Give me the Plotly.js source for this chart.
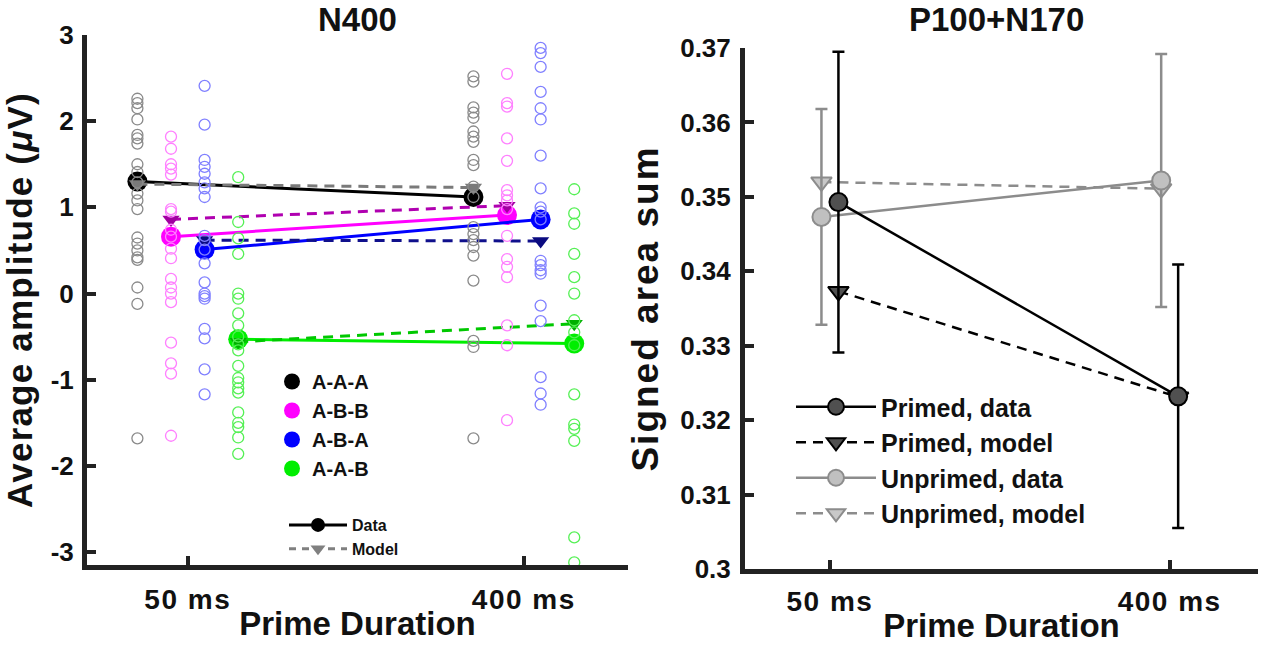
<!DOCTYPE html>
<html>
<head>
<meta charset="utf-8">
<script src="https://cdn.plot.ly/plotly-3.0.1.min.js"></script>
<style>
html,body{margin:0;padding:0;background:#fff}
#chart{width:1267px;height:646px}
#chart .ytitle{letter-spacing:1.2px}
#chart .y2title{letter-spacing:2px}
#chart .xtick text,#chart .x2tick text{letter-spacing:1.5px}
</style>
</head>
<body>
<div id="chart"></div>
<script>
// ---------- DATA ----------
const durations = ['50 ms', '400 ms'];
const groups = ['A-A-A', 'A-B-B', 'A-B-A', 'A-A-B'];

// individual participant values (N400, µV)
const aaa50  = [2.26, 2.21, 2.15, 2.02, 1.84, 1.80, 1.74, 1.50, 1.41, 1.29, 1.16, 1.08, 0.98, 0.65, 0.58, 0.50, 0.42, 0.39, 0.07, -0.12, -1.68];
const aaa400 = [2.52, 2.46, 2.16, 2.10, 2.04, 1.88, 1.82, 1.76, 1.55, 1.49, 1.24, 1.12, 0.77, 0.69, 0.62, 0.54, 0.44, 0.15, -0.55, -0.62, -1.68];
const abb50  = [1.82, 1.68, 1.50, 1.45, 1.38, 0.98, 0.95, 0.74, 0.66, 0.52, 0.41, 0.17, 0.07, 0.00, -0.10, -0.57, -0.81, -0.93, -1.65];
const abb400 = [2.55, 2.21, 2.17, 1.80, 1.54, 1.20, 1.14, 1.08, 0.98, 0.67, 0.40, 0.31, 0.19, -0.37, -0.60, -1.47];
const aba50  = [2.41, 1.96, 1.55, 1.47, 1.39, 1.29, 1.22, 1.12, 0.67, 0.62, 0.51, 0.35, 0.13, 0.00, -0.03, -0.06, -0.41, -0.52, -0.88, -1.17];
const aba400 = [2.85, 2.79, 2.63, 2.34, 2.15, 2.02, 1.60, 1.22, 1.00, 0.95, 0.86, 0.38, 0.33, 0.27, 0.23, -0.14, -0.32, -0.97, -1.16, -1.29];
const aab50  = [1.35, 0.83, 0.64, 0.46, 0.00, -0.06, -0.23, -0.37, -0.50, -0.59, -0.66, -0.84, -0.98, -1.03, -1.10, -1.15, -1.38, -1.50, -1.55, -1.67, -1.86];
const aab400 = [1.21, 0.93, 0.81, 0.46, 0.19, 0.00, -0.31, -0.45, -0.60, -1.17, -1.52, -1.57, -1.71, -2.83, -3.12];

// group means (data) and model predictions, [50 ms, 400 ms]
const aaaData = [1.30, 1.12],  aaaModel = [1.27, 1.23];
const abbData = [0.66, 0.91],  abbModel = [0.86, 1.02];
const abaData = [0.51, 0.86],  abaModel = [0.62, 0.61];
const aabData = [-0.53, -0.58], aabModel = [-0.56, -0.35];

// P100+N170 signed area sum, [50 ms, 400 ms]
const primedData     = [0.3493, 0.3232];
const primedErr      = [0.0202, 0.0177];
const primedModel    = [0.3373, 0.3231];
const unprimedData   = [0.3473, 0.3522];
const unprimedErr    = [0.0145, 0.0170];
const unprimedModel  = [0.3520, 0.3511];

const leftTicks  = [-3, -2, -1, 0, 1, 2, 3];
const leftTickText = ['-3', '-2', '-1', '0', '1', '2', '3'];
const rightTicks = [0.3, 0.31, 0.32, 0.33, 0.34, 0.35, 0.36, 0.37];
const rightTickText = ['0.3', '0.31', '0.32', '0.33', '0.34', '0.35', '0.36', '0.37'];

// ---------- STYLE ----------
const FONT = 'Liberation Sans, Arial, Helvetica, sans-serif';
const W = 1267, H = 646;
const groupStyle = [
  {off: -0.15, pts: '#8a8a8a', mean: '#000000', model: '#7a7a7a', modelTri: '#7a7a7a', leg: '#000000'},
  {off: -0.05, pts: '#ff80ff', mean: '#ff00ff', model: '#b000b0', modelTri: '#a000a0', leg: '#ff00ff'},
  {off:  0.05, pts: '#8080ff', mean: '#0000ff', model: '#10108c', modelTri: '#0a0a80', leg: '#0000ff'},
  {off:  0.15, pts: '#55f055', mean: '#00ee00', model: '#00c800', modelTri: '#00b000', leg: '#00ee00'}
];
const indiv = [[aaa50, aaa400], [abb50, abb400], [aba50, aba400], [aab50, aab400]];
const means = [aaaData, abbData, abaData, aabData];
const models = [aaaModel, abbModel, abaModel, aabModel];
const pos = [1, 2];

const traces = [];
groups.forEach((g, i) => {
  const s = groupStyle[i];
  const xs = pos.map(p => p + s.off);
  traces.push({x: xs, y: means[i], type: 'scatter', mode: 'lines+markers', xaxis: 'x', yaxis: 'y',
    line: {color: s.mean, width: 3}, marker: {symbol: 'circle', size: 20, color: s.mean},
    showlegend: false, hoverinfo: 'skip'});
  traces.push({x: xs, y: models[i], type: 'scatter', mode: 'lines+markers', xaxis: 'x', yaxis: 'y',
    line: {color: s.model, width: 3, dash: '10px,7px'}, marker: {symbol: 'triangle-down', size: 15, color: s.modelTri},
    showlegend: false, hoverinfo: 'skip'});
});
groups.forEach((g, i) => {
  const s = groupStyle[i];
  [0, 1].forEach(k => {
    const vals = indiv[i][k];
    traces.push({x: vals.map(() => pos[k] + s.off), y: vals, type: 'scatter', mode: 'markers',
      xaxis: 'x', yaxis: 'y', showlegend: false, hoverinfo: 'skip',
      marker: {symbol: 'circle-open', size: 11, color: s.pts, line: {width: 1.3, color: s.pts}}});
  });
});
groups.forEach((g, i) => {
  traces.push({x: [null], y: [null], type: 'scatter', mode: 'markers', xaxis: 'x', yaxis: 'y',
    name: g, legend: 'legend',
    marker: {symbol: 'circle', size: 17, color: groupStyle[i].leg}});
});
traces.push({x: [null], y: [null], type: 'scatter', mode: 'lines+markers', xaxis: 'x', yaxis: 'y',
  name: 'Data', legend: 'legend2', line: {color: '#000', width: 3},
  marker: {symbol: 'circle', size: 14, color: '#000'}});
traces.push({x: [null], y: [null], type: 'scatter', mode: 'lines+markers', xaxis: 'x', yaxis: 'y',
  name: 'Model', legend: 'legend2', line: {color: '#808080', width: 3, dash: '7px,6px'},
  marker: {symbol: 'triangle-down', size: 13, color: '#808080'}});

const offR = 0.025;
traces.push({x: pos.map(p => p - offR), y: unprimedModel, type: 'scatter', mode: 'lines+markers', xaxis: 'x2', yaxis: 'y2',
  name: 'Unprimed, model', legend: 'legend3', legendgroup: 'um', legendrank: 4,
  line: {color: '#8c8c8c', width: 2.5, dash: '10px,7px'},
  marker: {symbol: 'triangle-down', size: 18, color: '#c8c8c8', line: {color: '#8c8c8c', width: 2}}});
traces.push({x: pos.map(p => p - offR), y: unprimedData, type: 'scatter', mode: 'lines+markers', xaxis: 'x2', yaxis: 'y2',
  name: 'Unprimed, data', legend: 'legend3', legendgroup: 'ud', legendrank: 3,
  line: {color: '#8c8c8c', width: 2.5},
  error_y: {type: 'data', array: unprimedErr, visible: true, color: '#8c8c8c', thickness: 2.5, width: 6},
  marker: {symbol: 'circle', size: 18, color: '#c0c0c0', line: {color: '#8c8c8c', width: 2}}});
traces.push({x: pos.map(p => p + offR), y: primedModel, type: 'scatter', mode: 'lines+markers', xaxis: 'x2', yaxis: 'y2',
  name: 'Primed, model', legend: 'legend3', legendgroup: 'pm', legendrank: 2,
  line: {color: '#000', width: 2.5, dash: '10px,7px'},
  marker: {symbol: 'triangle-down', size: 18, color: '#505050', line: {color: '#000', width: 2}}});
traces.push({x: pos.map(p => p + offR), y: primedData, type: 'scatter', mode: 'lines+markers', xaxis: 'x2', yaxis: 'y2',
  name: 'Primed, data', legend: 'legend3', legendgroup: 'pd', legendrank: 1,
  line: {color: '#000', width: 2.5},
  error_y: {type: 'data', array: primedErr, visible: true, color: '#000', thickness: 2.5, width: 6},
  marker: {symbol: 'circle', size: 18, color: '#505050', line: {color: '#000', width: 2}}});

const px = v => v / W, py = v => 1 - v / H;
const axisCommon = {
  showline: true, linewidth: 5, linecolor: '#222', ticks: 'inside', ticklen: 9, tickwidth: 4, tickcolor: '#222',
  showgrid: false, zeroline: false, mirror: false, fixedrange: true,
  tickfont: {family: FONT, size: 26, color: '#111', weight: 'bold'}
};
const titleFont = {family: FONT, size: 33, color: '#111', weight: 'bold'};

const layout = {
  width: W, height: H, margin: {l: 0, r: 0, t: 0, b: 0}, paper_bgcolor: '#fff', plot_bgcolor: '#fff',
  showlegend: true,
  xaxis: Object.assign({}, axisCommon, {domain: [px(87), px(628)], range: [0.70, 2.31], tickvals: pos, ticktext: durations,
    anchor: 'y', ticklabelstandoff: 5, tickfont: {family: FONT, size: 28, color: '#111', weight: 'bold'},
    title: {text: 'Prime Duration', font: titleFont, standoff: 0}}),
  yaxis: Object.assign({}, axisCommon, {domain: [py(565), py(35)], range: [-3.15, 3.0], tickvals: leftTicks, ticktext: leftTickText,
    anchor: 'x', ticklabelstandoff: 3, title: {text: 'Average amplitude (<i>μ</i>V)', font: Object.assign({}, titleFont, {size: 35}), standoff: 10}}),
  xaxis2: Object.assign({}, axisCommon, {domain: [px(745), px(1258)], range: [0.75, 2.26], tickvals: pos, ticktext: durations,
    anchor: 'y2', ticklabelstandoff: 3, tickfont: {family: FONT, size: 28, color: '#111', weight: 'bold'},
    title: {text: 'Prime Duration', font: titleFont, standoff: 0}}),
  yaxis2: Object.assign({}, axisCommon, {domain: [py(569), py(48)], range: [0.3, 0.37], tickvals: rightTicks, ticktext: rightTickText,
    anchor: 'x2', ticklabelstandoff: 4, title: {text: 'Signed area sum', font: Object.assign({}, titleFont, {size: 37}), standoff: 12}}),
  legend: {x: px(272), y: py(362), xanchor: 'left', yanchor: 'top', bgcolor: 'rgba(0,0,0,0)',
    font: {family: FONT, size: 20, color: '#111', weight: 'bold'}, itemclick: false},
  legend2: {x: px(284), y: py(508), xanchor: 'left', yanchor: 'top', bgcolor: 'rgba(0,0,0,0)', itemwidth: 58,
    font: {family: FONT, size: 16, color: '#111', weight: 'bold'}, itemclick: false},
  legend3: {x: px(791), y: py(384), xanchor: 'left', yanchor: 'top', bgcolor: 'rgba(0,0,0,0)', traceorder: 'normal', itemwidth: 80,
    font: {family: FONT, size: 25, color: '#111', weight: 'bold'}, tracegroupgap: 4, itemclick: false},
  annotations: [
    {text: 'N400', x: px(357), y: py(19), xref: 'paper', yref: 'paper', xanchor: 'center', yanchor: 'middle', showarrow: false,
      font: {family: FONT, size: 33, color: '#111', weight: 'bold'}},
    {text: 'P100+N170', x: px(996), y: py(19), xref: 'paper', yref: 'paper', xanchor: 'center', yanchor: 'middle', showarrow: false,
      font: {family: FONT, size: 33, color: '#111', weight: 'bold'}}
  ]
};

Plotly.newPlot('chart', traces, layout, {staticPlot: true, displayModeBar: false});
</script>
</body>
</html>
